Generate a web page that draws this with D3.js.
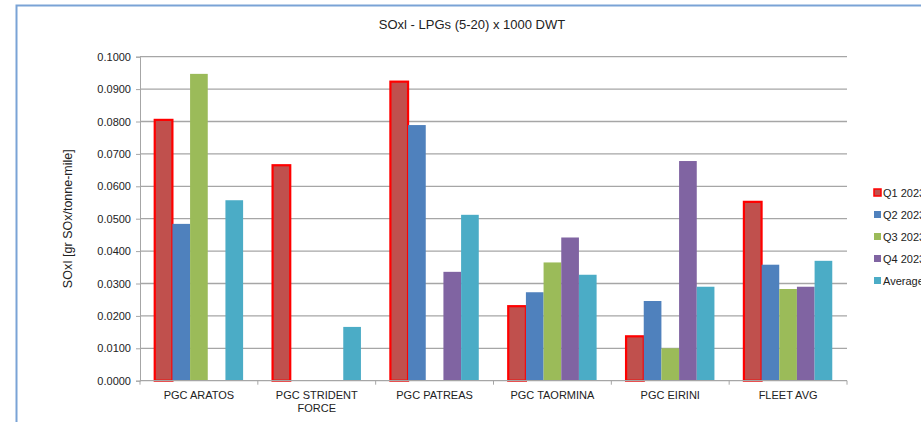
<!DOCTYPE html>
<html><head><meta charset="utf-8">
<script src="https://cdn.jsdelivr.net/npm/d3@7"></script>
<style>body{margin:0;background:#fff;overflow:hidden}svg{display:block}</style>
</head><body>
<svg id="c" width="921" height="422"></svg>
<script>
const categories = [["PGC ARATOS"],["PGC STRIDENT","FORCE"],["PGC PATREAS"],["PGC TAORMINA"],["PGC EIRINI"],["FLEET AVG"]];
const seriesNames = ["Q1 2023","Q2 2023","Q3 2023","Q4 2023","Average"];
const q1 = [0.0805, 0.0665, 0.0923, 0.0230, 0.0137, 0.0552];
const q2 = [0.0484, null, 0.0789, 0.0273, 0.0246, 0.0358];
const q3 = [0.0947, null, null, 0.0365, 0.0100, 0.0283];
const q4 = [null, null, 0.0336, 0.0442, 0.0678, 0.0290];
const avg = [0.0557, 0.0166, 0.0512, 0.0327, 0.0290, 0.0370];
const yTicks = [0,0.01,0.02,0.03,0.04,0.05,0.06,0.07,0.08,0.09,0.1];
const colors = ["#C0504D","#4F81BD","#9BBB59","#8064A2","#4BACC6"];
const series = [q1,q2,q3,q4,avg];

const svg = d3.select("#c");
const font = "'Liberation Sans', Arial, sans-serif";
svg.append("rect").attr("x",16.5).attr("y",5.5).attr("width",930).attr("height",430)
  .attr("fill","#fff").attr("stroke","#7AA3D6").attr("stroke-width",2);

const L=140, R=847, T=56.7, B=380.7;
const x0 = d3.scaleBand().domain(d3.range(categories.length)).range([L,R]).paddingInner(0.25).paddingOuter(0.125);
const x1 = d3.scaleBand().domain(d3.range(series.length)).range([0,x0.bandwidth()]);
const y = d3.scaleLinear().domain([0,0.1]).range([B,T]);

svg.append("text").attr("x",472).attr("y",29).attr("text-anchor","middle")
  .attr("font-family",font).attr("font-size",13).attr("fill","#222").text("SOxl - LPGs (5-20) x 1000 DWT");

const grid = svg.append("g");
grid.selectAll("line").data(yTicks.slice(1)).join("line")
  .attr("x1",L).attr("x2",R).attr("y1",d=>y(d)).attr("y2",d=>y(d))
  .attr("stroke","#A6A6A6").attr("stroke-width",1.3);

const ya = svg.append("g").attr("transform",`translate(${L},0)`)
  .call(d3.axisLeft(y).tickValues(yTicks).tickFormat(d3.format(".4f")).tickSize(4));
ya.select(".domain").attr("stroke","#A6A6A6");
ya.selectAll(".tick line").attr("stroke","#A6A6A6");
ya.selectAll("text").attr("font-family",font).attr("font-size",11).attr("fill","#222").attr("x",-9);

svg.append("text").attr("transform",`translate(72,${(T+B)/2}) rotate(-90)`).attr("text-anchor","middle")
  .attr("font-family",font).attr("font-size",12.5).attr("fill","#222").text("SOxI [gr SOx/tonne-mile]");

const bars = svg.append("g");
series.forEach((s,si)=>{
  bars.selectAll(null).data(s.map((v,i)=>({v,i})).filter(d=>d.v!=null)).join("rect")
    .attr("x",d=>x0(d.i)+x1(si))
    .attr("width",x1.bandwidth())
    .attr("y",d=>y(d.v))
    .attr("height",d=>B-y(d.v))
    .attr("fill",colors[si])
    .attr("stroke",si===0?"#FF0000":"none").attr("stroke-width",2.2);
});

const xa = svg.append("g").attr("transform",`translate(0,${B})`);
xa.append("line").attr("x1",L).attr("x2",R).attr("stroke","#A6A6A6").attr("stroke-width",1.3);
const step = (R-L)/categories.length;
xa.selectAll(".tk").data(d3.range(categories.length+1)).join("line")
  .attr("x1",i=>L+i*step).attr("x2",i=>L+i*step).attr("y1",0).attr("y2",4).attr("stroke","#A6A6A6");
categories.forEach((lines,i)=>{
  const t = xa.append("text").attr("text-anchor","middle").attr("font-family",font).attr("font-size",11).attr("fill","#222");
  lines.forEach((ln,k)=>t.append("tspan").attr("x",x0(i)+x0.bandwidth()/2).attr("y",18+k*13.5).text(ln));
});

const lg = svg.append("g");
seriesNames.forEach((n,i)=>{
  const yy = 193 + i*22;
  lg.append("rect").attr("x",874).attr("y",yy-4).attr("width",7).attr("height",7)
    .attr("fill",colors[i]).attr("stroke",i===0?"#FF0000":"none").attr("stroke-width",1.5);
  lg.append("text").attr("x",883).attr("y",yy+4).attr("font-family",font).attr("font-size",11).attr("fill","#222").text(n);
});
</script>
</body></html>
